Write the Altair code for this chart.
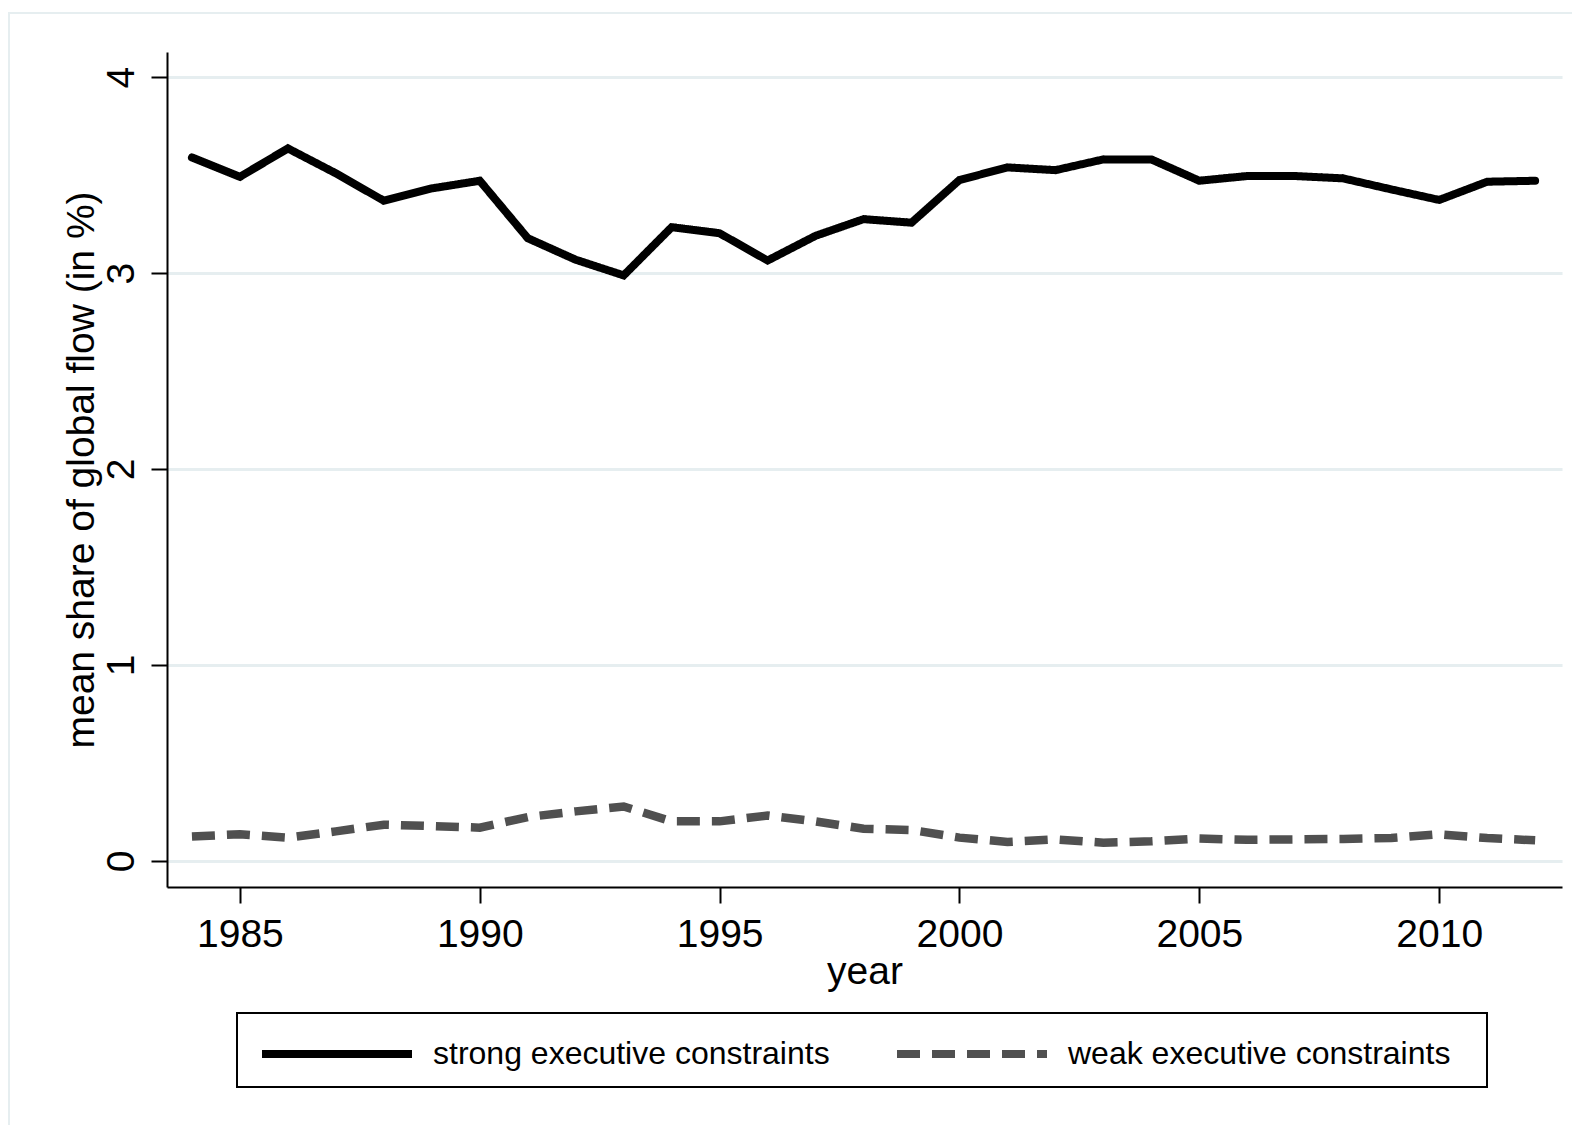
import altair as alt
import pandas as pd

years = list(range(1984, 2013))
strong = [3.590, 3.491, 3.636, 3.509, 3.369, 3.432, 3.471, 3.178, 3.068, 2.988,
          3.234, 3.203, 3.064, 3.190, 3.275, 3.257, 3.475, 3.539, 3.525, 3.580,
          3.580, 3.471, 3.495, 3.495, 3.483, 3.427, 3.373, 3.466, 3.471]
weak = [0.125, 0.136, 0.119, 0.151, 0.185, 0.178, 0.170, 0.224, 0.253, 0.278,
        0.202, 0.202, 0.232, 0.202, 0.164, 0.158, 0.119, 0.097, 0.110, 0.093,
        0.100, 0.114, 0.108, 0.110, 0.112, 0.117, 0.136, 0.117, 0.105]
groups = ["strong executive constraints", "weak executive constraints"]
x_ticks = [1985, 1990, 1995, 2000, 2005, 2010]
y_ticks = [0, 1, 2, 3, 4]

df = pd.DataFrame({
    "year": years * 2,
    "share": strong + weak,
    "group": [groups[0]] * len(years) + [groups[1]] * len(years),
})

FONT = "Liberation Sans"
W, H = 1395, 835

x_axis = alt.X(
    "year:Q",
    scale=alt.Scale(domain=[1983.48, 2012.56], nice=False, zero=False),
    axis=alt.Axis(values=x_ticks, format="d", title="year", grid=False,
                  labelPadding=12, labelFlush=False,
                  titleX=W / 2, titleY=96, titleAlign="center",
                  titleBaseline="alphabetic"),
)
y_axis = alt.Y(
    "share:Q",
    scale=alt.Scale(domain=[-0.133, 4.128], nice=False, zero=False),
    axis=alt.Axis(values=y_ticks, title="mean share of global flow (in %)",
                  grid=True, gridColor="#E6EEF0", gridWidth=3,
                  labelAngle=270, labelAlign="center", labelBaseline="alphabetic",
                  labelPadding=18, labelFlush=False,
                  titleAngle=270, titleX=-74, titleY=H / 2,
                  titleAlign="center", titleBaseline="alphabetic"),
)

# long legend keys: a path drawn from the symbol's left edge, 150px wide
# (symbol size 32px -> radius 16 units, path runs -1 .. 8.375)
key_path = "M-1,0H8.375"
leg = alt.Legend(title=None, orient="none", legendX=70, legendY=961,
                 direction="horizontal", columns=2, gridAlign="all",
                 symbolType=key_path, symbolSize=1024, symbolStrokeWidth=8,
                 labelFontSize=32, labelOffset=135, labelLimit=800,
                 padding=21, columnPadding=51)

color = alt.Color("group:N", scale=alt.Scale(domain=groups, range=["#000000", "#505050"]), legend=leg)
dash = alt.StrokeDash("group:N", scale=alt.Scale(domain=groups, range=[[1, 0], [23, 12]]), legend=leg)

base = alt.Chart(df).encode(x=x_axis, y=y_axis, color=color, strokeDash=dash)

strong_line = base.transform_filter(alt.datum.group == groups[0]).mark_line(
    strokeWidth=8, strokeCap="round")
weak_line = base.transform_filter(alt.datum.group == groups[1]).mark_line(
    strokeWidth=8.5, strokeCap="butt")

# faint outer frame, as in the Stata export
frame = alt.Chart(pd.DataFrame({"a": [0]})).mark_rect(
    fill="transparent", stroke="#E6EEF0", strokeWidth=2
).encode(x=alt.value(-158), x2=alt.value(1420), y=alt.value(-39), y2=alt.value(1200))

# box around the legend
legend_box = alt.Chart(pd.DataFrame({"a": [0]})).mark_rect(
    fill="transparent", stroke="black", strokeWidth=2
).encode(x=alt.value(70), x2=alt.value(1320), y=alt.value(961), y2=alt.value(1035))

chart = alt.layer(frame, legend_box, strong_line, weak_line).properties(
    width=W, height=H,
    autosize=alt.AutoSizeParams(type="none"),
    padding={"left": 159, "top": 44, "right": 10, "bottom": 238},
).configure_view(
    stroke="transparent"
).configure_axis(
    domainColor="black", domainWidth=2, tickColor="black", tickWidth=2, tickSize=16,
    labelFont=FONT, labelFontSize=39, labelColor="black",
    titleFont=FONT, titleFontSize=39, titleFontWeight="normal", titleColor="black",
).configure_legend(
    labelFont=FONT, labelColor="black",
)

chart.save("out.html", embed_options={"renderer": "svg", "actions": False})
